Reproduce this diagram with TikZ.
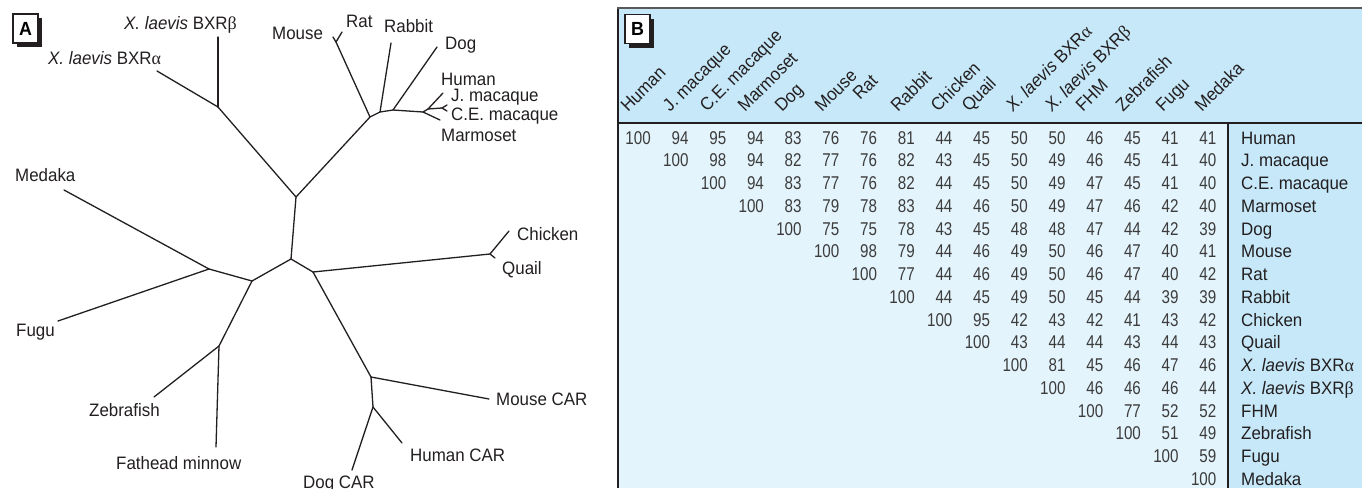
\documentclass[tikz,border=0pt]{standalone}
\usepackage{fontspec}
\setmainfont{Liberation Sans}[FakeStretch=0.94]
\newfontfamily\numfont{Liberation Sans}[FakeStretch=0.82]
\newfontfamily\grk{Liberation Serif}
\usepackage{tikz}
\usetikzlibrary{shadows}
\definecolor{hdrblue}{HTML}{C6E8F8}
\definecolor{bodyblue}{HTML}{E4F4FC}
\definecolor{ink}{HTML}{231F20}
\definecolor{numgray}{HTML}{3C3C3C}
\newcommand{\xla}{\textit{X. laevis} BXR{\grk α}}
\newcommand{\xlb}{\textit{X. laevis} BXR{\grk β}}

\begin{document}
\begin{tikzpicture}[
  x=1pt, y=-1pt,
  font=\fontsize{18}{20}\selectfont,
  branch/.style={line width=1.3pt, draw=ink, line cap=round, line join=round},
  leaf/.style={anchor=base west, inner sep=0pt, text=ink},
  tag/.style={draw=ink, fill=white, line width=1.3pt, minimum width=25pt, minimum height=29pt,
              inner sep=0pt, font=\fontsize{19}{20}\selectfont\bfseries,
              drop shadow={shadow xshift=4pt, shadow yshift=-4pt, fill=ink, opacity=1}},
  colhead/.style={anchor=base west, inner sep=0pt, rotate=45, text=ink},
  rowhead/.style={anchor=base west, inner sep=0pt, text=ink},
  num/.style={anchor=base east, inner sep=0pt, text=numgray,
              font=\numfont\fontsize{18.5}{20}\selectfont}
]
  \useasboundingbox (0,0) rectangle (1362,488);

  % A: tree
  \node[tag] (tagA) at (25.5,28.5) {A};
  \coordinate (top) at (296,197);
  \coordinate (root) at (291,259);
  \coordinate (bc) at (313,272);
  \coordinate (fish) at (252,281);
  \coordinate (fishA) at (209,269);
  \coordinate (cyp) at (219,346);
  \coordinate (xen) at (218,107);
  \coordinate (mr) at (370,117);
  \coordinate (mrf) at (336,42);
  \coordinate (rb) at (380,112);
  \coordinate (dg) at (393,110);
  \coordinate (pri) at (423,112);
  \coordinate (hm) at (428,109);
  \coordinate (mac) at (442,108);
  \coordinate (bird) at (490,254);
  \coordinate (car) at (371,377);
  \coordinate (hd) at (373,407);

  \coordinate (tXa) at (157,71);
  \coordinate (tXb) at (218,37);
  \coordinate (tMouse) at (333,37);
  \coordinate (tRat) at (342,32);
  \coordinate (tRabbit) at (391,43);
  \coordinate (tDog) at (437,47);
  \coordinate (tHuman) at (443,93);
  \coordinate (tJmac) at (447,105);
  \coordinate (tCEmac) at (447,111);
  \coordinate (tMarm) at (440,120);
  \coordinate (tMedaka) at (64,190);
  \coordinate (tFugu) at (58,321);
  \coordinate (tZebra) at (154,397);
  \coordinate (tFathead) at (216,447);
  \coordinate (tChicken) at (509,231);
  \coordinate (tQuail) at (495,258);
  \coordinate (tMCAR) at (489,399);
  \coordinate (tHCAR) at (402,443);
  \coordinate (tDCAR) at (352,470);

  \draw[branch] (root) -- (top);
  \draw[branch] (top) -- (xen);
  \draw[branch] (xen) -- (tXa);
  \draw[branch] (xen) -- (tXb);
  \draw[branch] (top) -- (mr) -- (rb) -- (dg) -- (pri);
  \draw[branch] (mr) -- (mrf);
  \draw[branch] (mrf) -- (tMouse);
  \draw[branch] (mrf) -- (tRat);
  \draw[branch] (rb) -- (tRabbit);
  \draw[branch] (dg) -- (tDog);
  \draw[branch] (pri) -- (tMarm);
  \draw[branch] (pri) -- (hm);
  \draw[branch] (hm) -- (tHuman);
  \draw[branch] (hm) -- (mac);
  \draw[branch] (mac) -- (tJmac);
  \draw[branch] (mac) -- (tCEmac);
  \draw[branch] (root) -- (fish);
  \draw[branch] (fish) -- (fishA);
  \draw[branch] (fishA) -- (tMedaka);
  \draw[branch] (fishA) -- (tFugu);
  \draw[branch] (fish) -- (cyp);
  \draw[branch] (cyp) -- (tZebra);
  \draw[branch] (cyp) -- (tFathead);
  \draw[branch] (root) -- (bc);
  \draw[branch] (bc) -- (bird);
  \draw[branch] (bird) -- (tChicken);
  \draw[branch] (bird) -- (tQuail);
  \draw[branch] (bc) -- (car);
  \draw[branch] (car) -- (tMCAR);
  \draw[branch] (car) -- (hd);
  \draw[branch] (hd) -- (tHCAR);
  \draw[branch] (hd) -- (tDCAR);

  \node[leaf] (lXb) at (124,29) {\xlb};
  \node[leaf] (lXa) at (48,64) {\xla};
  \node[leaf] (lMouse) at (272,39) {Mouse};
  \node[leaf] (lRat) at (346,27) {Rat};
  \node[leaf] (lRabbit) at (384,32) {Rabbit};
  \node[leaf] (lDog) at (445,49) {Dog};
  \node[leaf] (lHuman) at (441,85) {Human};
  \node[leaf] (lJmac) at (451,101) {J. macaque};
  \node[leaf] (lCEmac) at (451,120) {C.E. macaque};
  \node[leaf] (lMarm) at (441,141) {Marmoset};
  \node[leaf] (lMedaka) at (15,181) {Medaka};
  \node[leaf] (lChicken) at (517,240) {Chicken};
  \node[leaf] (lQuail) at (502,274) {Quail};
  \node[leaf] (lFugu) at (16,336) {Fugu};
  \node[leaf] (lMCAR) at (496,405) {Mouse CAR};
  \node[leaf] (lZebra) at (89,416) {Zebrafish};
  \node[leaf] (lHCAR) at (410,461) {Human CAR};
  \node[leaf] (lFathead) at (116,469) {Fathead minnow};
  \node[leaf] (lDCAR) at (303,488) {Dog CAR};

  % B: identity matrix
  \fill[hdrblue] (618,8) rectangle (1362,488);
  \fill[bodyblue] (619,123) rectangle (1228,488);
  \draw[line width=1.2pt, ink] (618,123) -- (1362,123);
  \draw[line width=1.2pt, ink] (1228,123) -- (1228,488);
  \draw[line width=1.6pt, ink] (618,8) -- (618,488);
  \draw[line width=2pt, black!65] (617.2,8) -- (1362,8);
  \node[tag] (tagB) at (637.5,29) {B};

  \foreach \nm/\hx/\hy [count=\c] in {Human/628/113, J. macaque/670/113, C.E. macaque/707/113,
      Marmoset/745/113, Dog/782/113, Mouse/822/113, Rat/860/101, Rabbit/898/113,
      Chicken/938/113, Quail/969/113, \xla/1013/113, \xlb/1052/113, FHM/1083/113,
      Zebrafish/1123/113, Fugu/1163/113, Medaka/1202/113}
    \node[colhead] (col\c) at (\hx,\hy) {\nm};

  \foreach \nm [count=\r from 0] in {Human, J. macaque, C.E. macaque, Marmoset, Dog, Mouse,
      Rat, Rabbit, Chicken, Quail, \xla, \xlb, FHM, Zebrafish, Fugu, Medaka}
    \node[rowhead] (row\r) at (1241,{144+22.76*\r}) {\nm};

  \foreach \vals [count=\r from 0] in {
      {100,94,95,94,83,76,76,81,44,45,50,50,46,45,41,41},
      {100,98,94,82,77,76,82,43,45,50,49,46,45,41,40},
      {100,94,83,77,76,82,44,45,50,49,47,45,41,40},
      {100,83,79,78,83,44,46,50,49,47,46,42,40},
      {100,75,75,78,43,45,48,48,47,44,42,39},
      {100,98,79,44,46,49,50,46,47,40,41},
      {100,77,44,46,49,50,46,47,40,42},
      {100,44,45,49,50,45,44,39,39},
      {100,95,42,43,42,41,43,42},
      {100,43,44,44,43,44,43},
      {100,81,45,46,47,46},
      {100,46,46,46,44},
      {100,77,52,52},
      {100,51,49},
      {100,59},
      {100}}
    \foreach \v [count=\i from 0] in \vals
      \node[num] (v-\r-\i) at ({651+37.7*(\r+\i)},{144+22.76*\r}) {\v};
\end{tikzpicture}
\end{document}
